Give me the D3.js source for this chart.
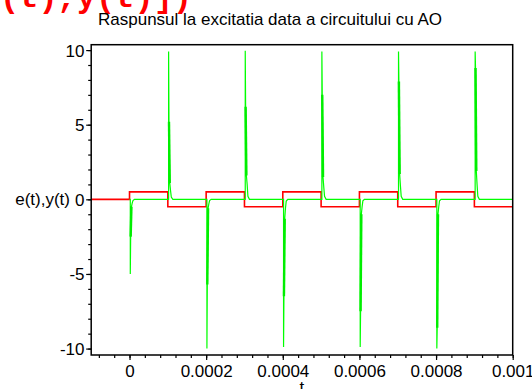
<!DOCTYPE html>
<html>
<head>
<meta charset="utf-8">
<script src="https://cdn.jsdelivr.net/npm/d3@7"></script>
<style>
  html, body { margin: 0; padding: 0; background: #ffffff; }
  svg { display: block; }
</style>
</head>
<body>
<script>
// ---------------- data ----------------
const title = "Raspunsul la excitatia data a circuitului cu AO";
const yLabel = "e(t),y(t)";
const xLabel = "t";
const codeFragment = "(t),y(t)])";

const tDomain = [-0.0001, 0.001];
const yDomain = [-10.43, 10.36];

const xTicks = [0, 0.0002, 0.0004, 0.0006, 0.0008, 0.001];
const xTickLabels = ["0", "0.0002", "0.0004", "0.0006", "0.0008", "0.001"];
const yTicks = [-10, -5, 0, 5, 10];
const yTickLabels = ["-10", "-5", "0", "5", "10"];
const xMinorStep = 0.00004;
const yMinorStep = 1;

// e(t): square wave, level after each switching instant
const edgeTimes = [0, 0.0001, 0.0002, 0.0003, 0.0004, 0.0005, 0.0006, 0.0007, 0.0008, 0.0009];
const eLevels   = [0.5, -0.5, 0.5, -0.5, 0.5, -0.5, 0.5, -0.5, 0.5, -0.5];

// y(t): spike at every switching instant
const spikeDelay  = 0.000002;
const spikePeak   = [-5.0, 9.9, -10.0, 9.95, -9.9, 9.9, -9.9, 9.9, -10.0, 9.9];
const spikeThickA = [-2.5, 5.2, -5.7, 6.2, -6.5, 7.0, -7.5, 7.9, -8.6, 8.8];
const spikeThickB = [-0.5, 1.1, -0.6, 1.6, -1.3, 1.5, -1.0, 1.7, -1.0, 1.9];
const spikeTailA  = [-0.25, 0.6, -0.3, 1.0, -0.6, 0.8, -0.5, 0.9, -0.5, 1.0];
const spikeTailB  = [-0.08, 0.15, -0.08, 0.2, -0.12, 0.2, -0.1, 0.2, -0.1, 0.2];
const spikeOffsets = [0, 0, 0.000001, 0.000003, 0.000005, 0.000007, 0.000011];
const yBaseline = 0;

// ---------------- drawing ----------------
const W = 532, H = 389;
const svg = d3.select("body").append("svg").attr("width", W).attr("height", H);
const FONT = "'Liberation Sans', Arial, sans-serif";

const x = d3.scaleLinear().domain(tDomain).range([91.2, 512.7]);
const y = d3.scaleLinear().domain(yDomain).range([355, 44.7]);

// cropped code fragment at top-left
svg.append("text")
  .attr("x", 0).attr("y", 7)
  .attr("font-family", "'Liberation Mono', 'Courier New', monospace")
  .attr("font-weight", "bold")
  .attr("font-size", 32)
  .attr("fill", "#ff0000")
  .text(codeFragment);

// title
svg.append("text")
  .attr("x", 270).attr("y", 25)
  .attr("text-anchor", "middle")
  .attr("font-family", FONT).attr("font-size", 17)
  .attr("fill", "#000")
  .text(title);

const [x0, x1] = x.range();
const [yb, yt] = y.range();

svg.append("defs").append("clipPath").attr("id", "clip")
  .append("rect").attr("x", x0).attr("y", yt).attr("width", x1 - x0).attr("height", yb - yt);

const plot = svg.append("g").attr("clip-path", "url(#clip)");

// red e(t)
const ePts = [[tDomain[0], 0]];
let prev = 0;
edgeTimes.forEach((te, i) => {
  ePts.push([te, prev]);
  ePts.push([te, eLevels[i]]);
  prev = eLevels[i];
});
ePts.push([tDomain[1], prev]);

const line = d3.line().x(d => x(d[0])).y(d => y(d[1]));

// green y(t)
const yPts = [[edgeTimes[0], yBaseline]];
const thickSegs = [];
edgeTimes.forEach((te, i) => {
  const tp = te + spikeDelay;
  const vals = [yBaseline, spikePeak[i], spikeThickA[i], spikeThickB[i], spikeTailA[i], spikeTailB[i], yBaseline];
  vals.forEach((v, k) => yPts.push([tp + spikeOffsets[k], v]));
  thickSegs.push([[tp + spikeOffsets[2], spikeThickA[i]], [tp + spikeOffsets[3], spikeThickB[i]]]);
});
yPts.push([tDomain[1], yBaseline]);

plot.append("path")
  .attr("d", line(ePts))
  .attr("fill", "none").attr("stroke", "#ff0000").attr("stroke-width", 1.6);

plot.append("path")
  .attr("d", line(yPts))
  .attr("fill", "none").attr("stroke", "#00ff00").attr("stroke-width", 1.2);

plot.selectAll(".thick").data(thickSegs).enter().append("path")
  .attr("d", d => line(d))
  .attr("fill", "none").attr("stroke", "#00ee00").attr("stroke-width", 2.4);

// frame
svg.append("rect")
  .attr("x", x0).attr("y", yt).attr("width", x1 - x0).attr("height", yb - yt)
  .attr("fill", "none").attr("stroke", "#000").attr("stroke-width", 1.5);

// minor ticks
const xMinor = d3.range(-2, 26).map(k => k * xMinorStep).filter(v => v > tDomain[0] && v < tDomain[1] + 1e-12);
const yMinor = d3.range(-10, 11).map(k => k * yMinorStep);

const gx = svg.append("g").attr("transform", `translate(0,${yb})`);
gx.call(d3.axisBottom(x).tickValues(xMinor).tickSize(3).tickFormat(""));
gx.append("g").call(d3.axisBottom(x).tickValues(xTicks).tickSize(5)
  .tickFormat((d, i) => xTickLabels[i]));
gx.selectAll(".domain").remove();
gx.selectAll("line").attr("stroke", "#000").attr("stroke-width", 1.2);
gx.selectAll("text")
  .attr("y", 22).attr("dy", 0)
  .attr("font-family", FONT).attr("font-size", 17).attr("fill", "#000");

const gy = svg.append("g").attr("transform", `translate(${x0},0)`);
gy.call(d3.axisLeft(y).tickValues(yMinor).tickSize(3).tickFormat(""));
gy.append("g").call(d3.axisLeft(y).tickValues(yTicks).tickSize(5)
  .tickFormat((d, i) => yTickLabels[i]));
gy.selectAll(".domain").remove();
gy.selectAll("line").attr("stroke", "#000").attr("stroke-width", 1.2);
gy.selectAll("text")
  .attr("x", -6.7).attr("dy", "0.35em")
  .attr("font-family", FONT).attr("font-size", 17).attr("fill", "#000");

// axis labels
svg.append("text")
  .attr("x", 70).attr("y", y(0)).attr("dy", "0.35em")
  .attr("text-anchor", "end")
  .attr("font-family", FONT).attr("font-size", 17).attr("fill", "#000")
  .text(yLabel);

svg.append("text")
  .attr("x", (x0 + x1) / 2).attr("y", 393)
  .attr("text-anchor", "middle")
  .attr("font-family", FONT).attr("font-size", 17).attr("fill", "#000")
  .text(xLabel);
</script>
</body>
</html>
